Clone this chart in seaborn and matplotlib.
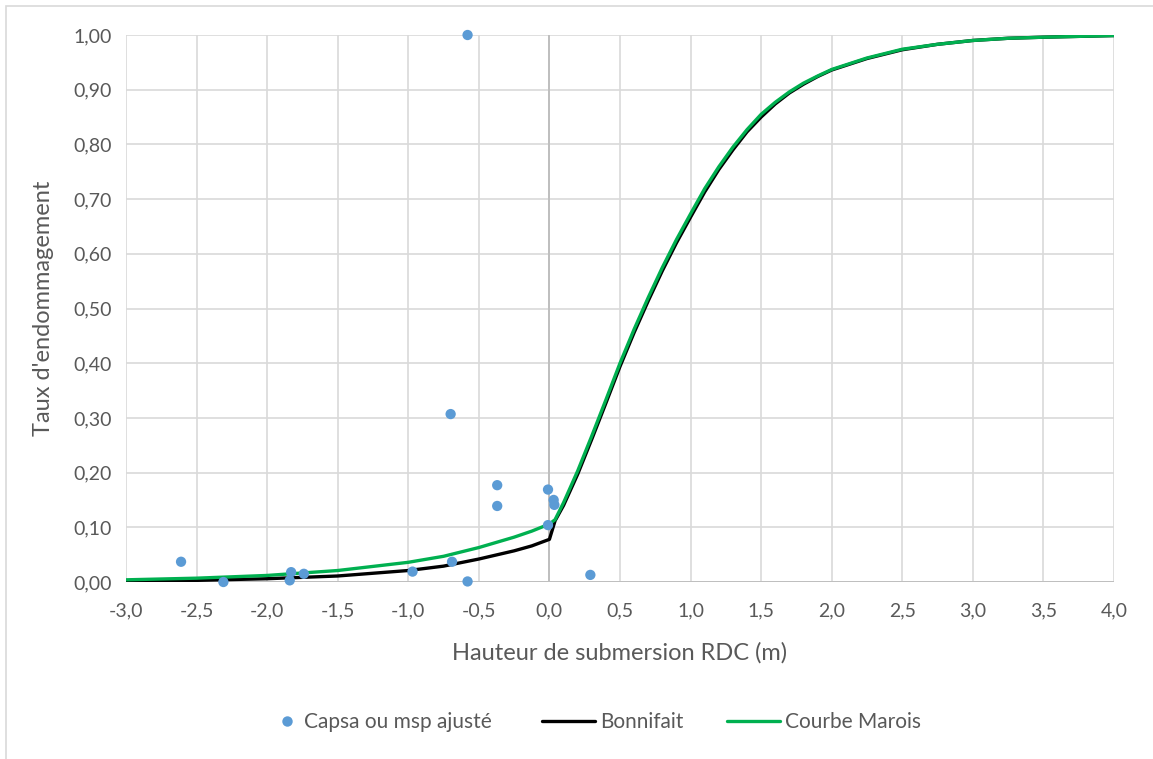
import matplotlib
matplotlib.use("Agg")
import matplotlib.pyplot as plt
from matplotlib.lines import Line2D
from matplotlib.patches import Rectangle
import seaborn as sns
import pandas as pd
import numpy as np

# Observed damage rates (Capsa / msp adjusted)
obs_h = [-2.61, -2.31, -1.83, -1.84, -1.74, -0.97, -0.70, -0.69, -0.58, -0.58,
         -0.37, -0.37, -0.01, 0.03, 0.035, -0.01, 0.29]
obs_rate = [0.037, 0.000, 0.018, 0.003, 0.015, 0.019, 0.307, 0.037, 1.000, 0.001,
            0.177, 0.139, 0.169, 0.150, 0.141, 0.104, 0.013]

# Bonnifait curve
bon_h = [-3.0, -2.5, -2.0, -1.5, -1.0, -0.75, -0.5, -0.25, -0.125, 0.0, 0.04,
         0.1, 0.2, 0.3, 0.4, 0.5, 0.6, 0.7, 0.8, 0.9, 1.0, 1.1, 1.2, 1.3, 1.4,
         1.5, 1.6, 1.7, 1.8, 1.9, 2.0, 2.25, 2.5, 2.75, 3.0, 3.25, 3.5, 4.0]
bon_rate = [0.001, 0.003, 0.006, 0.011, 0.021, 0.029, 0.042, 0.057, 0.066, 0.078,
            0.112, 0.140, 0.197, 0.261, 0.327, 0.394, 0.456, 0.514, 0.569, 0.620,
            0.667, 0.713, 0.754, 0.790, 0.823, 0.850, 0.874, 0.894, 0.910, 0.924,
            0.936, 0.957, 0.973, 0.983, 0.990, 0.994, 0.996, 0.999]

# Marois curve
mar_h = [-3.0, -2.5, -2.0, -1.5, -1.0, -0.75, -0.5, -0.25, -0.125, 0.0, 0.04,
         0.1, 0.2, 0.3, 0.4, 0.5, 0.6, 0.7, 0.8, 0.9, 1.0, 1.1, 1.2, 1.3, 1.4,
         1.5, 1.6, 1.7, 1.8, 1.9, 2.0, 2.25, 2.5, 2.75, 3.0, 3.25, 3.5, 4.0]
mar_rate = [0.004, 0.007, 0.012, 0.021, 0.036, 0.047, 0.063, 0.082, 0.093, 0.106,
            0.114, 0.145, 0.203, 0.267, 0.333, 0.400, 0.462, 0.520, 0.575, 0.626,
            0.673, 0.719, 0.759, 0.795, 0.827, 0.855, 0.877, 0.896, 0.912, 0.925,
            0.937, 0.958, 0.974, 0.983, 0.990, 0.994, 0.996, 0.999]

x_ticks = np.arange(-3.0, 4.01, 0.5)
y_ticks = np.arange(0.0, 1.001, 0.1)

sns.set_theme(style="white")
plt.rcParams["font.family"] = ["Lato", "DejaVu Sans"]

TXT = "#595959"
GRID = "#d9d9d9"
BLUE = "#5b9bd5"
GREEN = "#00b050"
W, H = 1153, 759

fig = plt.figure(figsize=(W / 100, H / 100), dpi=100)
ax = fig.add_axes([126 / W, 1 - 582 / H, (1114 - 126) / W, (582 - 35) / H])

# chart frame
fig.patches.append(Rectangle((6 / W, -0.05), 1.1, (H - 6) / H + 0.05,
                             transform=fig.transFigure, fill=False,
                             edgecolor=GRID, linewidth=1.2, zorder=0))

df_obs = pd.DataFrame({"h": obs_h, "rate": obs_rate})
df_bon = pd.DataFrame({"h": bon_h, "rate": bon_rate})
df_mar = pd.DataFrame({"h": mar_h, "rate": mar_rate})

for xv in x_ticks:
    ax.axvline(xv, color=GRID, lw=1.2, zorder=0)
for yv in y_ticks:
    ax.axhline(yv, color=GRID, lw=1.2, zorder=0)
ax.axvline(0, color="#bfbfbf", lw=1.4, zorder=0.5)
ax.axhline(0, color="#bfbfbf", lw=1.4, zorder=0.5)

sns.lineplot(data=df_bon, x="h", y="rate", ax=ax, color="black", lw=2.4,
             sort=False, estimator=None, zorder=3)
sns.lineplot(data=df_mar, x="h", y="rate", ax=ax, color=GREEN, lw=2.4,
             sort=False, estimator=None, zorder=4)
sns.scatterplot(data=df_obs, x="h", y="rate", ax=ax, color=BLUE, s=55,
                edgecolor="none", zorder=5, clip_on=False)

ax.set_xlim(-3.0, 4.0)
ax.set_ylim(0.0, 1.0)
ax.set_xticks(x_ticks)
ax.set_yticks(y_ticks)
ax.set_xticklabels([f"{v:.1f}".replace(".", ",") for v in x_ticks])
ax.set_yticklabels([f"{v:.2f}".replace(".", ",") for v in y_ticks])
ax.tick_params(axis="both", length=0, labelsize=14, labelcolor=TXT)
ax.tick_params(axis="y", pad=10)
ax.tick_params(axis="x", pad=15)
for s in ax.spines.values():
    s.set_visible(False)
ax.set_facecolor("none")

ax.set_xlabel("Hauteur de submersion RDC (m)", fontsize=17, color=TXT, labelpad=16)
ax.set_ylabel("Taux d'endommagement", fontsize=17, color=TXT, labelpad=14)

# legend entries along the bottom
entries = [
    (Line2D([], [], marker="o", linestyle="none", markersize=7.5,
            markerfacecolor=BLUE, markeredgecolor="none"),
     "Capsa ou msp ajusté", 276.6, 1.0, 0.32),
    (Line2D([], [], color="black", lw=2.4), "Bonnifait", 541.6, 2.55, 0.25),
    (Line2D([], [], color=GREEN, lw=2.4), "Courbe Marois", 727, 2.55, 0.25),
]
for handle, label, x0, hl, pad in entries:
    leg = fig.legend([handle], [label], loc="center left",
                     bbox_to_anchor=(x0 / W, 1 - 722 / H), frameon=False,
                     fontsize=15, handlelength=hl, handletextpad=pad,
                     borderpad=0, borderaxespad=0)
    for t in leg.get_texts():
        t.set_color(TXT)

fig.savefig("out.png", dpi=100)
